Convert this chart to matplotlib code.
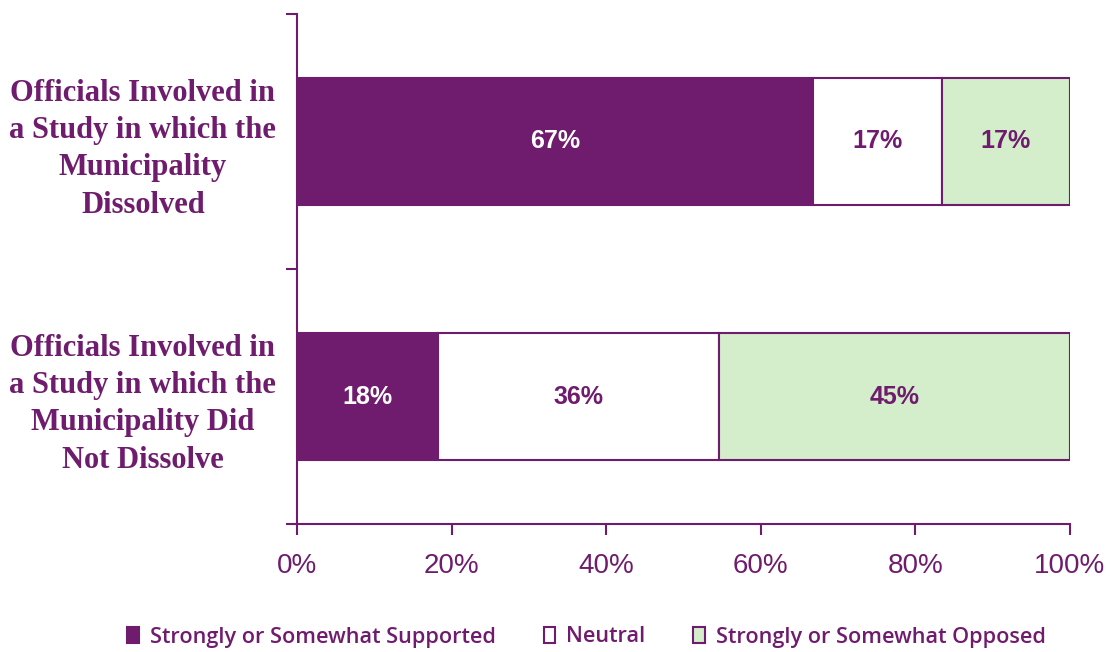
import matplotlib.pyplot as plt
import numpy as np

groups = ['Officials Involved in\na Study in which the\nMunicipality\nDissolved',
          'Officials Involved in\na Study in which the\nMunicipality Did\nNot Dissolve']
supported = [66.7, 18.2]
neutral = [16.7, 36.4]
opposed = [16.6, 45.4]
series_names = ['Strongly or Somewhat Supported', 'Neutral', 'Strongly or Somewhat Opposed']
xticks = [0, 20, 40, 60, 80, 100]

purple = '#701C6E'
green = '#D4EDCB'

fig = plt.figure(figsize=(11.13, 6.52), dpi=100)
ax = fig.add_axes([297/1113, 1-524/652, 773/1113, 510/652])

ypos = np.array([1.5, 0.5])
left = np.zeros(2)
fills = [purple, 'white', green]
txtcol = ['white', purple, purple]
for vals, fc, tc, name in zip([supported, neutral, opposed], fills, txtcol, series_names):
    vals = np.array(vals)
    ax.barh(ypos, vals, left=left, height=0.5, color=fc, edgecolor=purple,
            linewidth=1.5, label=name)
    for y, l, v in zip(ypos, left, vals):
        ax.text(l + v/2, y, '%d%%' % round(v), ha='center', va='center',
                color=tc, fontsize=18, fontweight='bold', family='Liberation Sans')
    left = left + vals

ax.set_xlim(0, 100)
ax.set_ylim(0, 2)
ax.set_xticks(xticks)
ax.set_xticklabels(['%d%%' % t for t in xticks], fontsize=20, color=purple,
                   family='Liberation Sans')
ax.set_yticks([0, 1, 2])
ax.set_yticklabels([])
ax.set_yticks(ypos, minor=True)
ax.set_yticklabels(groups, minor=True, fontsize=22, fontweight='bold', color=purple,
                   family='Liberation Serif', ha='center', linespacing=1.38)
ax.tick_params(axis='y', which='minor', length=0, pad=111)
ax.tick_params(axis='both', which='major', length=8, width=1.5, color=purple)
ax.tick_params(axis='x', pad=13)
for s in ['top', 'right']:
    ax.spines[s].set_visible(False)
for s in ['left', 'bottom']:
    ax.spines[s].set_color(purple)
    ax.spines[s].set_linewidth(1.5)

leg = fig.legend(loc='center', bbox_to_anchor=(0.527, 15/652), ncol=3, frameon=False,
                 handlelength=0.55, handleheight=0.7, handletextpad=0.5, columnspacing=2.2,
                 prop={'family': 'Open Sans', 'size': 15.6, 'weight': 'semibold'})
for t in leg.get_texts():
    t.set_color(purple)

fig.savefig('out.png', dpi=100)
